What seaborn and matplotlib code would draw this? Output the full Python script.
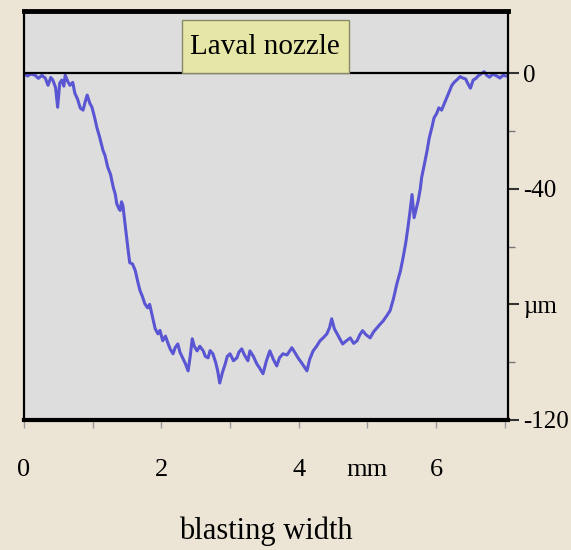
import matplotlib
matplotlib.use("Agg")
import matplotlib.pyplot as plt
import matplotlib.transforms as mtransforms
from matplotlib.patches import Rectangle
import seaborn as sns
import pandas as pd

# Profile of the blasted groove (blasting width in mm, depth in µm)
width_mm = [0.00, 0.05, 0.10, 0.16, 0.21, 0.26, 0.31, 0.35, 0.39, 0.42,
            0.46, 0.49, 0.52, 0.55, 0.58, 0.60, 0.64, 0.67, 0.71, 0.74,
            0.78, 0.82, 0.86, 0.89, 0.92, 0.96, 0.99, 1.03, 1.06, 1.10,
            1.15, 1.18, 1.22, 1.26, 1.30, 1.33, 1.35, 1.38, 1.40, 1.42,
            1.44, 1.47, 1.50, 1.52, 1.54, 1.58, 1.62, 1.66, 1.69, 1.72,
            1.76, 1.80, 1.83, 1.86, 1.89, 1.91, 1.95, 1.98, 2.02, 2.06,
            2.10, 2.13, 2.17, 2.20, 2.24, 2.27, 2.31, 2.35, 2.39, 2.42,
            2.45, 2.48, 2.52, 2.56, 2.61, 2.64, 2.68, 2.71, 2.75, 2.79,
            2.82, 2.85, 2.89, 2.93, 2.96, 3.00, 3.05, 3.10, 3.13, 3.17,
            3.21, 3.26, 3.29, 3.34, 3.39, 3.43, 3.48, 3.53, 3.58, 3.63,
            3.68, 3.72, 3.77, 3.83, 3.90, 3.94, 3.99, 4.05, 4.12, 4.16,
            4.21, 4.26, 4.31, 4.36, 4.41, 4.45, 4.48, 4.52, 4.56, 4.60,
            4.64, 4.70, 4.75, 4.80, 4.85, 4.89, 4.93, 4.98, 5.04, 5.09,
            5.14, 5.18, 5.23, 5.28, 5.33, 5.38, 5.43, 5.48, 5.52, 5.56,
            5.59, 5.62, 5.65, 5.68, 5.71, 5.74, 5.77, 5.79, 5.83, 5.87,
            5.90, 5.94, 5.97, 6.01, 6.04, 6.08, 6.12, 6.16, 6.20, 6.23,
            6.27, 6.30, 6.35, 6.39, 6.43, 6.46, 6.50, 6.54, 6.58, 6.61,
            6.66, 6.70, 6.74, 6.78, 6.82, 6.86, 6.90, 6.93, 6.97, 7.02]
depth_um = [0.0, -1.0, -0.3, -0.7, -1.8, -0.8, -1.7, -4.2, -1.5, -2.4,
            -5.0, -11.8, -3.5, -2.4, -4.5, -0.7, -3.0, -4.2, -3.2, -6.9,
            -9.0, -12.1, -12.8, -10.0, -7.6, -10.5, -11.8, -15.5, -18.7, -22.0,
            -26.7, -28.5, -32.6, -35.0, -39.5, -42.0, -45.1, -46.8, -47.5, -44.5,
            -45.8, -52.0, -58.0, -62.0, -65.6, -66.0, -68.3, -72.5, -75.3, -77.0,
            -79.8, -81.2, -80.0, -83.2, -86.5, -88.4, -90.2, -89.0, -92.6, -91.0,
            -93.7, -95.5, -97.1, -95.0, -93.7, -96.5, -98.5, -100.5, -103.0, -98.0,
            -91.9, -94.5, -96.1, -94.5, -96.1, -98.0, -98.5, -96.0, -97.1, -100.0,
            -103.0, -107.2, -103.5, -100.6, -98.0, -97.1, -99.5, -98.5, -96.5, -95.4,
            -97.5, -99.5, -96.1, -98.0, -100.6, -102.0, -104.0, -99.5, -96.1, -99.0,
            -101.3, -98.5, -97.1, -97.5, -95.0, -96.5, -98.5, -100.5, -103.0, -99.0,
            -96.1, -94.5, -92.6, -91.5, -90.2, -88.0, -85.0, -88.5, -90.2, -92.0,
            -93.7, -92.5, -91.6, -93.5, -92.6, -90.5, -89.1, -90.5, -91.6, -89.5,
            -88.1, -87.0, -85.7, -84.0, -82.2, -78.0, -72.8, -68.5, -63.8, -58.5,
            -53.4, -48.0, -42.0, -50.0, -47.0, -44.1, -40.0, -36.1, -31.5, -26.7,
            -22.5, -18.7, -15.5, -13.9, -12.0, -12.8, -10.5, -8.3, -6.0, -4.2,
            -3.0, -2.4, -1.2, -1.7, -2.0, -3.5, -5.2, -2.4, -1.8, -1.0,
            -0.2, 0.5, -0.8, -1.4, -0.4, -0.7, -1.2, -1.7, -0.8, -1.0]

x_ticks = [0, 2, 4, 5, 6]
x_tick_labels = ["0", "2", "4", "mm", "6"]
y_ticks = [0, -40, -80, -120]
y_tick_labels = ["0", "-40", "µm", "-120"]
title_text = "Laval nozzle"
x_label = "blasting width"

df = pd.DataFrame({"width": width_mm, "depth": depth_um})

sns.set_theme(style="white")
plt.rcParams["font.family"] = ["Liberation Serif", "DejaVu Serif"]
plt.rcParams["text.color"] = "black"
plt.rcParams["axes.labelcolor"] = "black"
plt.rcParams["xtick.labelcolor"] = "black"
plt.rcParams["ytick.labelcolor"] = "black"

fig = plt.figure(figsize=(5.71, 5.50), dpi=100, facecolor="#ece5d6")
ax = fig.add_axes([0.042, 0.2364, 0.848, 0.7436])
ax.set_facecolor("#dddddd")

sns.lineplot(data=df, x="width", y="depth", ax=ax, color="#4b46d2",
             linewidth=2.2, alpha=0.9, sort=False)

ax.axhline(0, color="black", linewidth=1.6, zorder=3)

ax.set_xlim(0, 7.05)
ax.set_ylim(-120, 21.5)

ax.set_xticks(x_ticks)
ax.set_xticklabels(x_tick_labels, fontsize=19)
ax.set_xticks([1, 3, 7], minor=True)
ax.tick_params(axis="x", which="both", bottom=True, direction="out",
               length=6, width=1, color="#9a9a9a", pad=22)

ax.yaxis.tick_right()
ax.set_yticks(y_ticks)
ax.set_yticklabels(y_tick_labels, fontsize=18)
ax.set_yticks([-20, -60, -100], minor=True)
ax.tick_params(axis="y", which="major", right=True, left=False,
               direction="out", length=8, width=1.5, color="#333333", pad=3)
ax.tick_params(axis="y", which="minor", right=True, left=False,
               direction="out", length=5, width=1, color="#777777")

for side, lw in [("top", 3.5), ("bottom", 3.0), ("left", 1.6), ("right", 1.6)]:
    ax.spines[side].set_visible(True)
    ax.spines[side].set_color("black")
    ax.spines[side].set_linewidth(lw)

ax.set_xlabel(x_label, fontsize=22, labelpad=26)
ax.set_ylabel("")

trans = mtransforms.blended_transform_factory(ax.transAxes, ax.transData)
ax.add_patch(Rectangle((0.326, 0.0), 0.345, 18.4, transform=trans,
                       facecolor="#e6e6a6", edgecolor="#8a8a6a",
                       linewidth=1, zorder=4))
ax.text(0.4985, 9.0, title_text, transform=trans, ha="center", va="center",
        fontsize=21, color="black", zorder=5)

fig.savefig("out.png", dpi=100, facecolor=fig.get_facecolor())
